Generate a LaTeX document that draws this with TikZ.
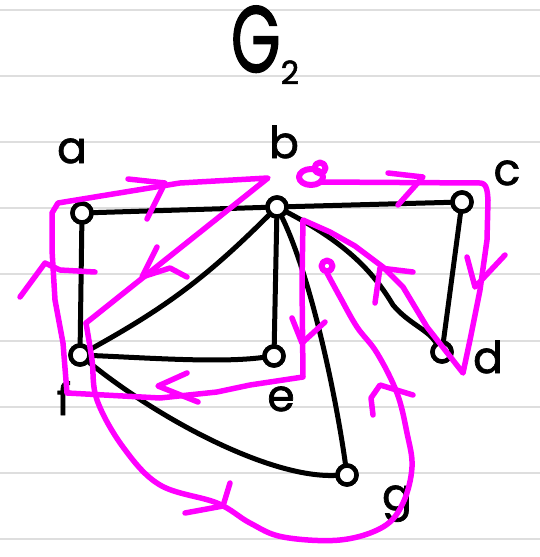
\documentclass[tikz,border=0pt]{standalone}
\usepackage{fontspec}
\setmainfont{Poppins}
\newfontfamily\labfont{Poppins}[FakeBold=1.6]
\definecolor{pathmag}{RGB}{255,0,255}
\definecolor{rulegray}{RGB}{222,222,222}
\begin{document}
\begin{tikzpicture}[x=1pt,y=-1pt,
  vert/.style={circle,draw=black,fill=white,line width=4.5pt,minimum size=19pt,inner sep=0pt},
  edge/.style={draw=black,line width=5pt,line cap=round,line join=round},
  mag/.style={draw=pathmag,line width=5.5pt,line cap=round,line join=round},
  lab/.style={font=\labfont\fontsize{44}{44}\selectfont,inner sep=0pt,anchor=base},
  rulel/.style={draw=rulegray,line width=2pt}]
\fill[white] (0,0) rectangle (540,557);
\useasboundingbox (0,0) rectangle (540,557);
% ruled paper
\foreach \yy in {10,76,142,208,274,341,407,473,539}{
  \draw[rulel] (0,\yy) -- (540,\yy);
}
% title
\node[inner sep=0pt,anchor=base] (title) at (265,72)
  {\labfont\scalebox{0.68}[1]{\fontsize{94}{94}\selectfont G}\raisebox{-12pt}{\fontsize{32}{32}\selectfont 2}};
% vertices
\node[vert] (va) at (82,213) {};
\node[vert] (vb) at (277,207) {};
\node[vert] (vc) at (462,202) {};
\node[vert] (vd) at (442,352) {};
\node[vert] (ve) at (274,356) {};
\node[vert] (vf) at (80,355) {};
\node[vert] (vg) at (347,475) {};
% labels
\node[lab] (la) at (72,163) {a};
\node[lab] (lb) at (284,158) {b};
\node[lab] (lc) at (507,185) {c};
\node[lab] (ld) at (488,373) {d};
\node[lab] (le) at (281,411) {e};
\node[lab] (lf) at (64,415) {f};
\node[lab] (lg) at (397,510) {g};
% edges
\draw[edge] (va) -- (vb);
\draw[edge] (vb) -- (vc);
\draw[edge] (va) -- (vf);
\draw[edge] (vf) to[bend right=8] (vb);
\draw[edge] (vf) .. controls (150,358) and (220,363) .. (ve);
\draw[edge] (vb) -- (ve);
\draw[edge] (vb) .. controls (350,245) and (375,275) .. (393,305) .. controls (408,323) and (428,330) .. (vd);
\draw[edge] (vb) .. controls (310,275) and (335,390) .. (vg);
\draw[edge] (vc) -- (vd);
\draw[edge] (vf) .. controls (160,420) and (270,478) .. (vg);
% redraw vertices on top
\foreach \p in {va,vb,vc,vd,ve,vf,vg}{
  \draw[black,fill=white,line width=4.5pt] (\p.center) circle (9.5pt);
}
% magenta circuit
\draw[mag,line width=6pt] (311,177) ellipse [x radius=12pt, y radius=8pt];
\draw[mag,line width=6pt] (320,168) circle (5.5pt);
\draw[mag] (320,182) -- (480,183) to[out=0,in=95] (488,200) -- (487,240) -- (480,290) -- (470,340) -- (463,373)
  -- (427,327) -- (403,287) -- (383,267) -- (355,246) -- (330,232) -- (303,220)
  -- (302,283) -- (303,377) -- (250,385) -- (217,392) -- (160,398) -- (67,393)
  -- (63,343) -- (55,300) -- (52,250) -- (52,213) -- (58,203) -- (180,183) -- (268,178)
  -- (86,323);
\draw[mag] plot[smooth,tension=0.6] coordinates {(86,323) (92,360) (97,400) (123,447) (160,485) (217,503) (250,523) (283,537) (340,540) (383,527) (403,503) (412,467) (407,433) (397,393) (377,353) (357,327) (340,297) (327,273)};
\draw[mag,line width=6pt] (327,266) circle (5.5pt);
% arrowheads
\draw[mag] (128,179) -- (165,183) -- (147,219);
\draw[mag] (157,247) -- (142,277) -- (170,268) -- (187,277);
\draw[mag] (20,297) -- (45,263) -- (60,270) -- (95,272);
\draw[mag] (187,373) -- (158,386) -- (198,402);
\draw[mag] (292,318) -- (302,343) -- (325,322);
\draw[mag] (388,173) -- (423,177) -- (398,205);
\draw[mag] (467,257) -- (475,287) -- (505,255);
\draw[mag] (375,303) -- (380,268) -- (413,272);
\draw[mag] (185,513) -- (223,506) -- (230,483);
\draw[mag] (373,415) -- (371,398) -- (380,385) -- (413,395);
\end{tikzpicture}
\end{document}
